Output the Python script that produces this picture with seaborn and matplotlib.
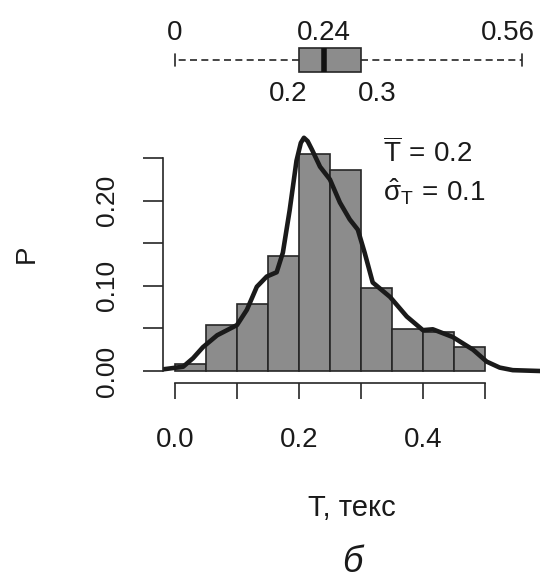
import numpy as np
import matplotlib
matplotlib.use("Agg")
import matplotlib.pyplot as plt
import seaborn as sns

sns.set_style("ticks")
plt.rcParams['font.family'] = ['Liberation Sans', 'DejaVu Sans']
plt.rcParams['mathtext.fontset'] = 'custom'
plt.rcParams['mathtext.rm'] = 'Liberation Sans'
plt.rcParams['mathtext.it'] = 'Liberation Sans'
plt.rcParams['mathtext.bf'] = 'Liberation Sans:bold'

# histogram of relative frequencies, bin width 0.05
bin_edges = [0.0, 0.05, 0.10, 0.15, 0.20, 0.25, 0.30, 0.35, 0.40, 0.45, 0.50]
bin_p = [0.008, 0.054, 0.079, 0.135, 0.255, 0.236, 0.098, 0.049, 0.046, 0.028]

# smoothed density curve (scaled to bin probability)
curve_t = [-0.019, 0.013, 0.029, 0.045, 0.068, 0.100, 0.116, 0.132, 0.148, 0.164,
           0.174, 0.185, 0.196, 0.203, 0.208, 0.214, 0.221, 0.234, 0.250, 0.266,
           0.282, 0.295, 0.306, 0.319, 0.347, 0.374, 0.400, 0.416, 0.448, 0.481,
           0.503, 0.524, 0.545, 0.589]
curve_p = [0.002, 0.005, 0.015, 0.028, 0.042, 0.054, 0.072, 0.099, 0.111, 0.116,
           0.139, 0.189, 0.247, 0.268, 0.274, 0.270, 0.260, 0.240, 0.225, 0.198,
           0.178, 0.166, 0.139, 0.104, 0.087, 0.064, 0.048, 0.049, 0.040, 0.025,
           0.011, 0.004, 0.001, 0.000]

# five-number summary: min, q1, median, q3, max
box_values = [0.0, 0.2, 0.24, 0.3, 0.56]
box_labels = ['0', '0.2', '0.24', '0.3', '0.56']

x_ticks = [0.0, 0.1, 0.2, 0.3, 0.4, 0.5]
x_ticklabels = ['0.0', '', '0.2', '', '0.4', '']
y_ticks = [0.0, 0.05, 0.10, 0.15, 0.20, 0.25]
y_ticklabels = ['0.00', '', '0.10', '', '0.20', '']

bar_color = '#8c8c8c'
ink = '#262626'
xlim = (-0.0194, 0.589)

fig = plt.figure(figsize=(5.4, 5.79), dpi=100)
ax = fig.add_axes([0.3019, 0.3385, 0.6981, 0.4456])
ax_box = fig.add_axes([0.3019, 0.8618, 0.6981, 0.0691])

# %% main histogram + curve
bin_centers = [(a + b) / 2 for a, b in zip(bin_edges[:-1], bin_edges[1:])]
sns.histplot(x=bin_centers, weights=bin_p, bins=bin_edges, ax=ax,
             color=bar_color, edgecolor=ink, linewidth=1.2, alpha=1)
sns.lineplot(x=curve_t, y=curve_p, ax=ax, color='#1a1a1a', linewidth=3.3)

ax.set_xlim(*xlim)
ax.set_ylim(-0.0141, 0.289)
ax.set_xticks(x_ticks)
ax.set_xticklabels(x_ticklabels)
ax.set_yticks(y_ticks)
ax.set_yticklabels(y_ticklabels, rotation=90, va='center')

for s in ['top', 'right']:
    ax.spines[s].set_visible(False)
ax.spines['left'].set_bounds(0, 0.25)
ax.spines['bottom'].set_bounds(0, 0.5)
for s in ['left', 'bottom']:
    ax.spines[s].set_color(ink)
    ax.spines[s].set_linewidth(1.2)

ax.tick_params(axis='x', bottom=True, direction='out', length=11.5, width=1.2,
               color=ink, pad=20, labelsize=20, labelcolor='#1a1a1a')
ax.tick_params(axis='y', left=True, direction='out', length=14.5, width=1.2,
               color=ink, pad=17, labelsize=19, labelcolor='#1a1a1a')

ax.set_xlabel('T, текс', fontsize=21, color='#1a1a1a')
ax.xaxis.set_label_coords(0.5, -0.4845)
ax.xaxis.label.set_va('center')
ax.set_ylabel('P', fontsize=20, color='#1a1a1a')
ax.yaxis.set_label_coords(-0.361, 0.5)
ax.yaxis.label.set_va('center')

ax.text(0.5836, 0.857, r'$\overline{T}\,=\,0.2$', transform=ax.transAxes,
        fontsize=20, va='baseline', ha='left', color='#1a1a1a')
ax.text(0.5836, 0.709, r'$\hat{\sigma}_T\,=\,0.1$', transform=ax.transAxes,
        fontsize=20, va='baseline', ha='left', color='#1a1a1a')

# %% boxplot on top
sns.boxplot(x=box_values, ax=ax_box, whis=(0, 100), width=0.8, color=bar_color,
            saturation=1, linecolor=ink, linewidth=1.2,
            medianprops=dict(color='#111111', linewidth=4),
            whiskerprops=dict(linestyle=(0, (4.2, 2.6))))
ax_box.set_xlim(*xlim)
ax_box.set_ylim(0.65, -0.65)
ax_box.axis('off')

# labels: above for min/median/max, below for the quartiles
label_pos = [(1.175, 'center', 0), (-0.35, 'right', 6), (1.175, 'center', 0),
             (-0.35, 'left', -2), (1.175, 'right', 9.4)]
for v, lab, (yy, ha, dx) in zip(box_values, box_labels, label_pos):
    ax_box.annotate(lab, xy=(v, yy), xycoords=('data', 'axes fraction'),
                    xytext=(dx, 0), textcoords='offset points',
                    ha=ha, va='center', fontsize=20, color='#1a1a1a',
                    annotation_clip=False)

fig.text(352 / 540, 1 - 563 / 579, 'б', style='italic', fontsize=26,
         ha='center', va='center', color='#1a1a1a')

plt.savefig('out.png', dpi=100)
